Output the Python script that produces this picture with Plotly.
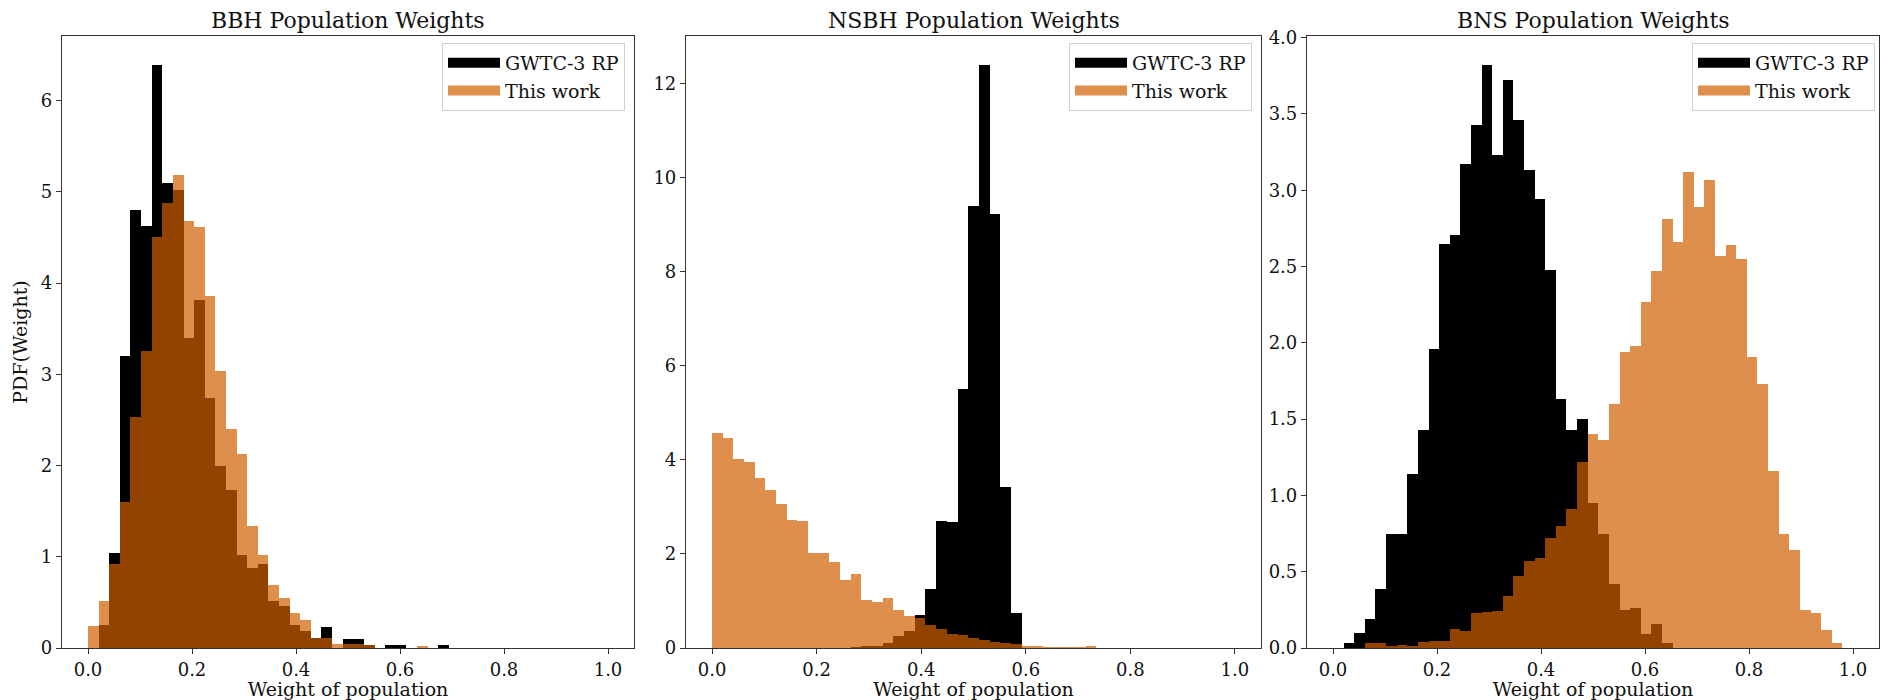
import numpy as np
import plotly.graph_objects as go

# ---- data (PDF values per bin, 49 bins on [0, 1]) ----
n_bins = 49
bin_edges = np.linspace(0.0, 1.0, n_bins + 1)

bbh_gwtc3 = [0, 0.255, 1.04, 3.20, 4.80, 4.63, 6.39, 5.10, 5.02, 3.40,
             3.82, 2.74, 1.99, 1.73, 1.02, 0.88, 0.92, 0.515, 0.46, 0.255,
             0.19, 0.11, 0.235, 0, 0.095, 0.095, 0.03, 0, 0.037, 0.037,
             0, 0, 0, 0.037, 0, 0, 0, 0, 0, 0,
             0, 0, 0, 0, 0, 0, 0, 0, 0]
bbh_this = [0.24, 0.515, 0.92, 1.60, 2.53, 3.26, 4.51, 4.88, 5.19, 4.68,
            4.62, 3.86, 3.04, 2.40, 2.13, 1.34, 1.02, 0.69, 0.55, 0.38,
            0.31, 0.11, 0.11, 0.044, 0.044, 0.044, 0.037, 0, 0, 0,
            0, 0.022, 0, 0, 0, 0, 0, 0, 0, 0,
            0, 0, 0, 0, 0, 0, 0, 0, 0]

nsbh_gwtc3 = [0, 0, 0, 0, 0, 0, 0, 0, 0, 0,
              0, 0, 0, 0.01, 0.03, 0.03, 0.11, 0.26, 0.37, 0.71,
              1.25, 2.71, 2.69, 5.52, 9.40, 12.40, 9.23, 3.42, 0.74, 0,
              0, 0, 0, 0, 0, 0, 0, 0, 0, 0,
              0, 0, 0, 0, 0, 0, 0, 0, 0]
nsbh_this = [4.58, 4.46, 4.02, 3.96, 3.62, 3.36, 3.07, 2.72, 2.70, 2.02,
             2.02, 1.84, 1.45, 1.58, 1.03, 0.98, 1.06, 0.80, 0.69, 0.64,
             0.50, 0.40, 0.30, 0.285, 0.21, 0.17, 0.13, 0.11, 0.09, 0.05,
             0.03, 0.015, 0.015, 0.015, 0.01, 0.036, 0, 0, 0, 0,
             0, 0, 0, 0, 0, 0, 0, 0, 0]

bns_gwtc3 = [0, 0.033, 0.10, 0.19, 0.385, 0.75, 0.75, 1.14, 1.43, 1.96,
             2.65, 2.71, 3.17, 3.43, 3.82, 3.23, 3.72, 3.46, 3.13, 2.94,
             2.48, 1.63, 1.43, 1.50, 0.95, 0.75, 0.42, 0.25, 0.26, 0.09,
             0.16, 0.03, 0, 0, 0, 0, 0, 0, 0, 0,
             0, 0, 0, 0, 0, 0, 0, 0, 0]
bns_this = [0, 0, 0, 0.033, 0.033, 0.015, 0.022, 0.01, 0.04, 0.046,
            0.046, 0.125, 0.11, 0.23, 0.234, 0.243, 0.34, 0.47, 0.57, 0.59,
            0.72, 0.80, 0.91, 1.22, 1.40, 1.36, 1.60, 1.94, 1.98, 2.27,
            2.47, 2.81, 2.66, 3.12, 2.89, 3.07, 2.57, 2.64, 2.55, 1.91,
            1.73, 1.16, 0.75, 0.64, 0.25, 0.23, 0.12, 0.03, 0]

titles = ["BBH Population Weights", "NSBH Population Weights", "BNS Population Weights"]
series_names = ["GWTC-3 RP", "This work"]
x_ticks = [0.0, 0.2, 0.4, 0.6, 0.8, 1.0]

panels = [
    (bbh_gwtc3, bbh_this, [0, 1, 2, 3, 4, 5, 6], "d"),
    (nsbh_gwtc3, nsbh_this, [0, 2, 4, 6, 8, 10, 12], "d"),
    (bns_gwtc3, bns_this, [0, 0.5, 1.0, 1.5, 2.0, 2.5, 3.0, 3.5, 4.0], ".1f"),
]

# ---- layout/style ----
W, H = 1891, 700
FONT = "DejaVu Serif"
BLACK = "#000000"
ORANGE = "rgb(208,96,0)"
ORANGE_A = "rgba(208,96,0,0.7)"
x_doms = [(62, 634), (686, 1261), (1307, 1879)]
y_dom = (1 - 648 / H, 1 - 36 / H)
legend_right = [625, 1252, 1875]

centers = 0.5 * (bin_edges[:-1] + bin_edges[1:])
width = bin_edges[1] - bin_edges[0]

fig = go.Figure()
layout = dict(
    template="none",
    width=W, height=H,
    margin=dict(l=0, r=0, t=0, b=0, autoexpand=False),
    paper_bgcolor="white", plot_bgcolor="white",
    barmode="overlay", bargap=0,
    font=dict(family=FONT, size=18, color="#111"),
    annotations=[],
)

for i, (g3, tw, yt, yfmt) in enumerate(panels):
    k = "" if i == 0 else str(i + 1)
    leg = "legend" if i == 0 else f"legend{i+1}"
    fig.add_trace(go.Bar(x=centers, y=g3, width=width, name=series_names[0],
                         marker=dict(color=BLACK, line=dict(width=0)), showlegend=False,
                         xaxis="x" + k, yaxis="y" + k))
    fig.add_trace(go.Bar(x=centers, y=tw, width=width, name=series_names[1],
                         marker=dict(color=ORANGE, line=dict(width=0)), opacity=0.7,
                         showlegend=False, xaxis="x" + k, yaxis="y" + k))
    # legend entries drawn as wide patches (like matplotlib's legend handles)
    for name, col in zip(series_names, [BLACK, ORANGE_A]):
        fig.add_trace(go.Scatter(x=[None], y=[None], mode="lines", name=name,
                                 line=dict(color=col, width=13),
                                 xaxis="x" + k, yaxis="y" + k, legend=leg,
                                 hoverinfo="skip"))
    ymax = max(max(g3), max(tw)) * 1.05
    axstyle = dict(showline=True, mirror=True, linecolor="#333", linewidth=1.2,
                   ticks="outside", ticklen=5, tickwidth=1.1, tickcolor="#333",
                   showgrid=False, zeroline=False, automargin=False,
                   tickfont=dict(size=18, family=FONT, color="#111"))
    layout["xaxis" + k] = dict(domain=[x_doms[i][0] / W, x_doms[i][1] / W],
                               range=[-0.05, 1.05], tickvals=x_ticks, tickformat=".1f",
                               anchor="y" + k,
                               title=dict(text="Weight of population", standoff=0,
                                          font=dict(size=19, family=FONT, color="#111")),
                               **axstyle)
    ydict = dict(domain=list(y_dom), range=[0, ymax], tickvals=yt, tickformat=yfmt,
                 anchor="x" + k, **axstyle)
    if i == 0:
        ydict["title"] = dict(text="PDF(Weight)", standoff=8,
                              font=dict(size=19, family=FONT, color="#111"))
    layout["yaxis" + k] = ydict
    layout["annotations"].append(dict(
        text=titles[i], xref=f"x{k} domain", yref=f"y{k} domain", x=0.5, y=1.0,
        xanchor="center", yanchor="bottom", yshift=1, showarrow=False,
        font=dict(size=22, family=FONT, color="#111")))
    layout[leg] = dict(x=legend_right[i] / W, y=1 - 43 / H, xanchor="right", yanchor="top",
                       bgcolor="rgba(255,255,255,0.8)", bordercolor="#d0d0d0", borderwidth=1,
                       font=dict(size=19, family=FONT, color="#111"), itemwidth=52,
                       tracegroupgap=4)

fig.update_layout(**layout)
fig.write_html("out.html", config={"displayModeBar": False},
               post_script="document.body.style.margin='0';document.body.style.overflow='hidden';")
